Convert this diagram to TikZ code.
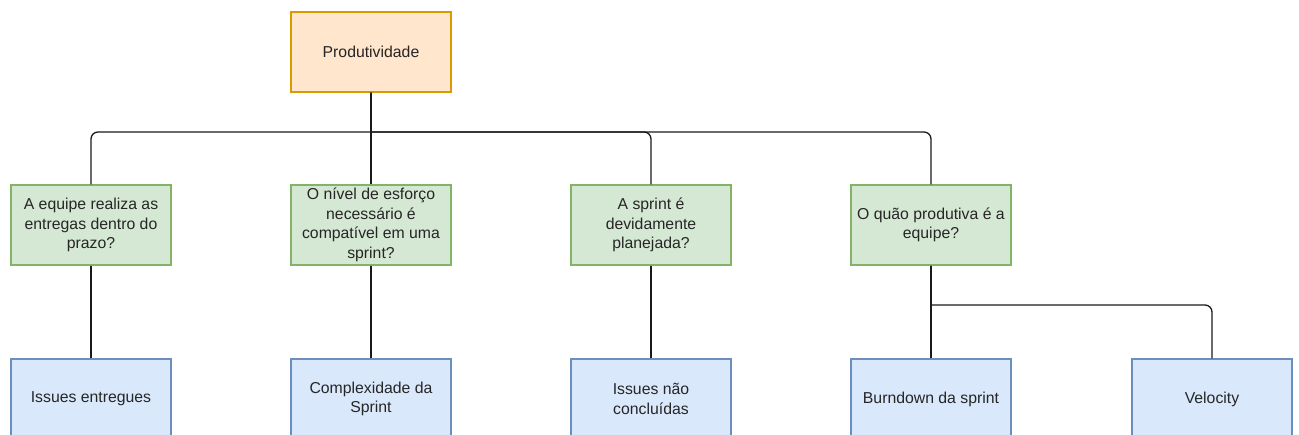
\documentclass[tikz,border=0pt]{standalone}
\usepackage{fontspec}
\setmainfont{Liberation Sans}
\definecolor{orfill}{HTML}{FFE6CC}
\definecolor{ordraw}{HTML}{D79B00}
\definecolor{grfill}{HTML}{D5E8D4}
\definecolor{grdraw}{HTML}{82B366}
\definecolor{blfill}{HTML}{DAE8FC}
\definecolor{bldraw}{HTML}{6C8EBF}
\definecolor{edgecol}{HTML}{1A1A1A}
\definecolor{txtcol}{HTML}{262626}
\tikzset{
  box/.style={rectangle, minimum width=160pt, minimum height=80pt, inner sep=0pt,
    line width=1.1pt, align=center, font=\fontsize{15.8}{19.5}\selectfont, text=txtcol},
  topbox/.style={box, fill=orfill, draw=ordraw},
  qbox/.style={box, fill=grfill, draw=grdraw},
  mbox/.style={box, fill=blfill, draw=bldraw},
  conn/.style={draw=edgecol, line width=1.3pt},
  rc/.style={rounded corners=7pt}
}
\begin{document}
\begin{tikzpicture}[x=1pt,y=-1pt]
\useasboundingbox (0,0) rectangle (1299,434);
\coordinate (busy) at (0,132);
\coordinate (bus2) at (0,305);
\node[topbox] (p) at (371,52) {Produtividade};
\node[qbox] (q1) at (91,225) {A equipe realiza as\\entregas dentro do\\prazo?};
\node[qbox] (q2) at (371,225) {O nível de esforço\\necessário é\\compatível em uma\\sprint?};
\node[qbox] (q3) at (651,225) {A sprint é\\devidamente\\planejada?};
\node[qbox] (q4) at (931,225) {O quão produtiva é a\\equipe?};
\node[mbox] (m1) at (91,399) {Issues entregues};
\node[mbox] (m2) at (371,399) {Complexidade da\\Sprint};
\node[mbox] (m3) at (651,399) {Issues não\\concluídas};
\node[mbox] (m4) at (931,399) {Burndown da sprint};
\node[mbox] (m5) at (1212,399) {Velocity};
\draw[conn] (p.south) -- (p.south |- busy) [rc] -- (q1.north |- busy) -- (q1.north);
\draw[conn] (p.south) -- (q2.north);
\draw[conn] (p.south) -- (p.south |- busy) [rc] -- (q3.north |- busy) -- (q3.north);
\draw[conn] (p.south) -- (p.south |- busy) [rc] -- (q4.north |- busy) -- (q4.north);
\draw[conn] (q1.south) -- (m1.north);
\draw[conn] (q2.south) -- (m2.north);
\draw[conn] (q3.south) -- (m3.north);
\draw[conn] (q4.south) -- (m4.north);
\draw[conn] (q4.south) -- (q4.south |- bus2) [rc] -- (m5.north |- bus2) -- (m5.north);
\end{tikzpicture}
\end{document}
